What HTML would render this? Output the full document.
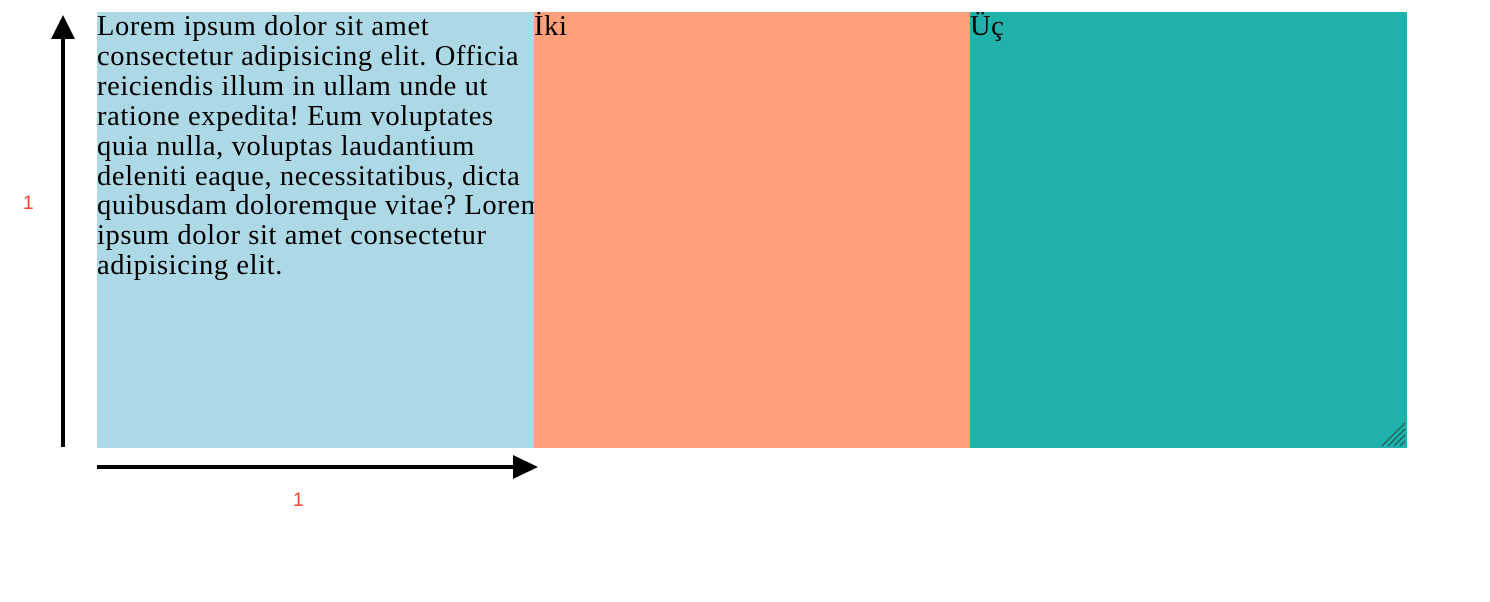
<!DOCTYPE html>
<html><head><meta charset="utf-8"><style>
html,body{margin:0;padding:0;width:1490px;height:602px;background:#fff;overflow:hidden;position:relative}
.box{position:absolute;top:12px;height:436px;font-family:"Liberation Serif",serif;font-size:28.5px;line-height:29.9px;letter-spacing:0.6px;color:#000;white-space:nowrap;overflow:hidden}
.box div{margin-top:0px}
.lbl{position:absolute;font-family:"Liberation Sans",sans-serif;font-size:19px;color:#f0432f}
</style></head><body>
<div class="box" style="left:97px;width:437px;background:#add8e6"><div>Lorem ipsum dolor sit amet<br>consectetur adipisicing elit. Officia<br>reiciendis illum in ullam unde ut<br>ratione expedita! Eum voluptates<br>quia nulla, voluptas laudantium<br>deleniti eaque, necessitatibus, dicta<br>quibusdam doloremque vitae? Lorem<br>ipsum dolor sit amet consectetur<br>adipisicing elit.</div></div>
<div class="box" style="left:534px;width:436px;background:#ffa07a"><div>İki</div></div>
<div class="box" style="left:970px;width:437px;background:#20b2aa"><div>Üç</div></div>
<svg style="position:absolute;left:0;top:0" width="1490" height="602">
<rect x="61" y="38" width="4" height="409" fill="#000"/>
<polygon points="63,15 51,39 75,39" fill="#000"/>
<rect x="97" y="465" width="418" height="4" fill="#000"/>
<polygon points="538,467 513,455 513,479" fill="#000"/>
<g stroke="#1e5e5a" stroke-width="1.3">
<line x1="1382" y1="446" x2="1405" y2="423"/>
<line x1="1388" y1="446" x2="1405" y2="429"/>
<line x1="1394" y1="446" x2="1405" y2="435"/>
<line x1="1400" y1="446" x2="1405" y2="441"/>
</g>
</svg>
<div class="lbl" style="left:23px;top:193px">1</div>
<div class="lbl" style="left:293px;top:490px">1</div>
</body></html>
